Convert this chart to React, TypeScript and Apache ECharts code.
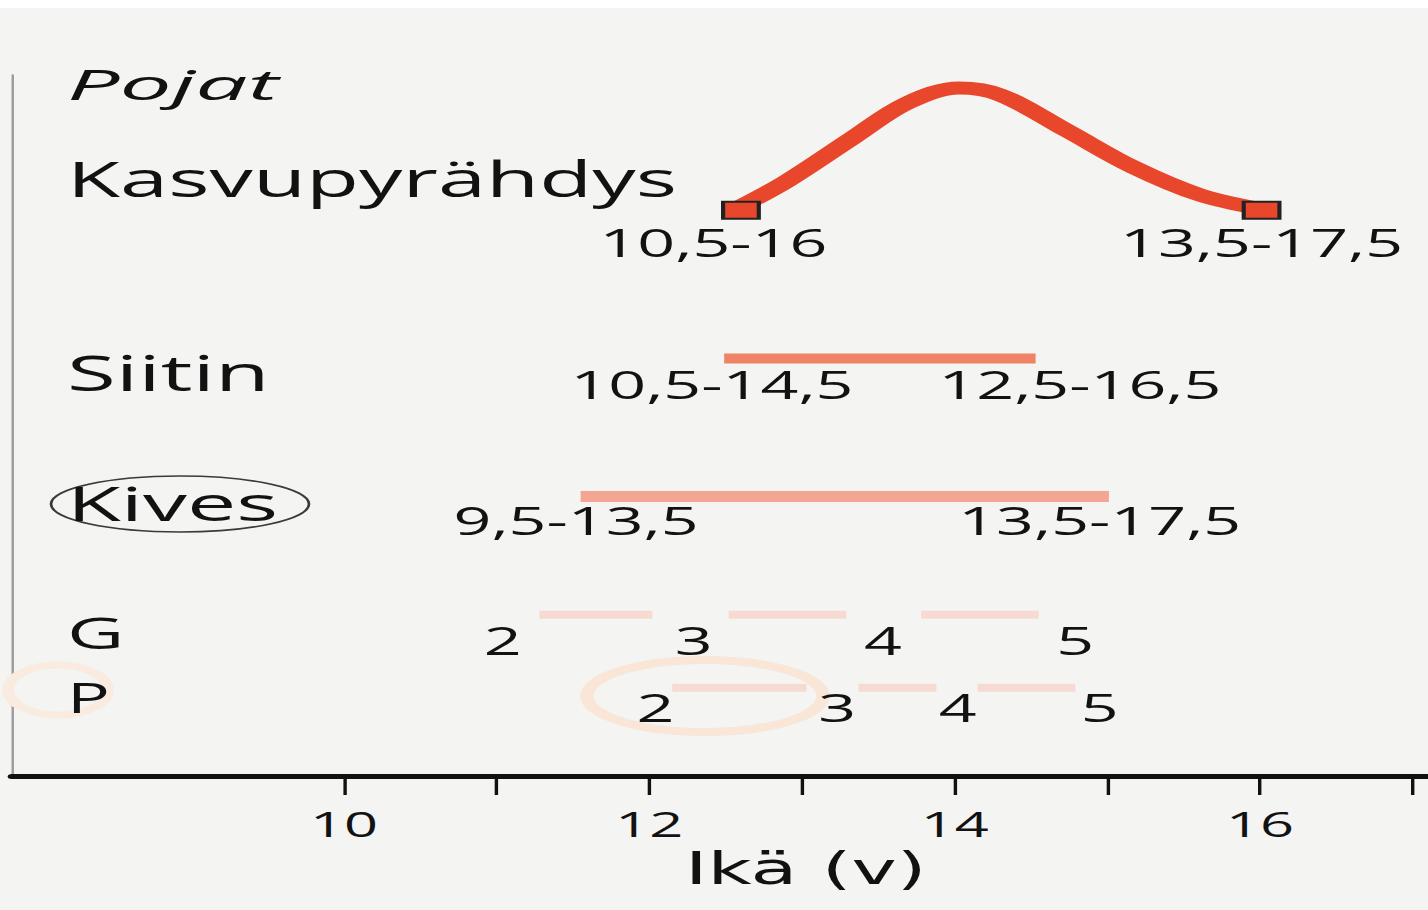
import React, { useEffect, useRef } from "react";
import * as echarts from "echarts";

// ---- data ----
const ageTicks = [10, 11, 12, 13, 14, 15, 16, 17];
const ageTickLabels = [10, 12, 14, 16];

// growth spurt (Kasvupyrähdys) curve
const spurtCurve = [
  [12.6, 5.69], [12.9, 5.94], [13.33, 6.37], [13.69, 6.72], [14.03, 6.87],
  [14.3, 6.8], [14.74, 6.44], [15.17, 6.08], [15.61, 5.8], [16.01, 5.66],
];
const spurtEnds = [[12.6, 5.65], [16.01, 5.65]];

// range bars
const siitinBar = [[12.49, 14.53, 4.17]];
const kivesBar = [[11.55, 15.01, 2.79]];
const gSegments = [[11.28, 12.02, 1.61], [12.52, 13.29, 1.61], [13.78, 14.55, 1.61]];
const pSegments = [[12.15, 13.03, 0.88], [13.37, 13.88, 0.88], [14.15, 14.79, 0.88]];

// range labels
const rangeLabels = ["10,5-16", "13,5-17,5", "10,5-14,5", "12,5-16,5", "9,5-13,5", "13,5-17,5"];
const rangeLabelPos = [
  [12.42, 5.33], [16.01, 5.33], [12.41, 3.91], [14.82, 3.91], [11.52, 2.56], [14.95, 2.56],
];

// stage numbers
const gStages = ["2", "3", "4", "5"];
const gStagePos = [[11.04, 1.36], [12.29, 1.36], [13.53, 1.36], [14.79, 1.36]];
const pStages = ["2", "3", "4", "5"];
const pStagePos = [[12.04, 0.69], [13.23, 0.69], [14.02, 0.69], [14.95, 0.69]];

const rowLabels = ["Pojat", "Kasvupyrähdys", "Siitin", "Kives", "G", "P"];

// ---- layout ----
const SX = 1.7;
const W = Math.round(1428 / SX);
const H = 910;
const FONT = "'Open Sans', 'Noto Sans', sans-serif";
const BG = "#f4f4f2";

function segSeries(data: number[][], color: string, h: number, z = 2) {
  return {
    type: "custom",
    clip: false,
    z,
    data,
    encode: { x: [0, 1], y: 2 },
    renderItem: (params: any, api: any) => {
      const s = api.coord([api.value(0), api.value(2)]);
      const e = api.coord([api.value(1), api.value(2)]);
      return {
        type: "rect",
        shape: { x: s[0], y: s[1] - h / 2, width: e[0] - s[0], height: h },
        style: { fill: color },
      };
    },
  };
}

function textSeries(labels: string[], pos: number[][], fontSize: number) {
  return {
    type: "custom",
    clip: false,
    z: 5,
    data: pos,
    renderItem: (params: any, api: any) => {
      const p = api.coord([api.value(0), api.value(1)]);
      return {
        type: "text",
        x: p[0],
        y: p[1],
        style: {
          text: labels[params.dataIndex],
          fontSize,
          fontFamily: FONT,
          fill: "#121212",
          align: "center",
          verticalAlign: "middle",
        },
      };
    },
  };
}

export default function App() {
  const ref = useRef<HTMLDivElement>(null);
  useEffect(() => {
    document.body.style.margin = "0";
    document.body.style.background = BG;
    const chart = echarts.init(ref.current!, null, { renderer: "svg" });
    const rowY = [84, 178, 372, 503, 632, 697];
    const rowSize = [42, 50, 49, 47, 43, 42];
    const rowScale = [1.3, 1.02, 1.07, 1.1, 1.08, 1.0];
    chart.setOption({
      animation: false,
      backgroundColor: BG,
      grid: { left: 7, right: 0, top: 75, bottom: 134 },
      xAxis: {
        type: "value",
        min: 7.825,
        max: 17.1,
        name: "Ikä (v)",
        nameLocation: "middle",
        nameGap: 60,
        nameTextStyle: { fontSize: 45, color: "#121212", fontFamily: "'DejaVu Sans', sans-serif", padding: [0, 0, 0, 101] },
        axisLine: { show: true, lineStyle: { color: "#111", width: 5 } },
        axisTick: { show: true, customValues: ageTicks, length: 19, lineStyle: { color: "#111", width: 2 } },
        axisLabel: { customValues: ageTickLabels, fontSize: 35, color: "#121212", fontFamily: FONT, margin: 30 },
        splitLine: { show: false },
      },
      yAxis: {
        type: "value",
        min: 0,
        max: 7,
        axisLine: { show: true, lineStyle: { color: "#9a9a9a", width: 1.4 } },
        axisTick: { show: false },
        axisLabel: { show: false },
        splitLine: { show: false },
      },
      graphic: [
        { type: "rect", shape: { x: 0, y: 0, width: W, height: 8 }, style: { fill: "#ffffff" } },
        {
          type: "ellipse",
          shape: { cx: 705 / SX, cy: 696, rx: 118 / SX, ry: 36 },
          style: { fill: "none", stroke: "#f9e6d7", lineWidth: 8 },
          z: 1,
        },
        {
          type: "ellipse",
          shape: { cx: 58 / SX, cy: 690, rx: 50 / SX, ry: 25 },
          style: { fill: "none", stroke: "#f9ebdf", lineWidth: 7 },
          z: 1,
        },
        {
          type: "ellipse",
          shape: { cx: 180 / SX, cy: 504, rx: 129 / SX, ry: 28 },
          style: { fill: "none", stroke: "#3a3a3a", lineWidth: 1.6 },
          z: 10,
        },
        ...rowLabels.map((t, i) => ({
          type: "text",
          x: 67 / SX,
          y: rowY[i],
          scaleX: rowScale[i],
          z: 10,
          style: {
            text: t,
            fontSize: rowSize[i],
            fontStyle: i === 0 ? "italic" : "normal",
            fontFamily: FONT,
            fill: "#121212",
            verticalAlign: "middle",
          },
        })),
      ],
      series: [
        segSeries(gSegments, "#f7dad2", 8, 2),
        segSeries(pSegments, "#f7dad2", 8, 2),
        segSeries(kivesBar, "#f4a593", 11, 3),
        segSeries(siitinBar, "#ef8366", 10, 3),
        {
          type: "line",
          data: spurtCurve,
          smooth: 0.35,
          symbol: "none",
          z: 4,
          lineStyle: { color: "#e8472c", width: 13 },
        },
        {
          type: "scatter",
          data: spurtEnds,
          symbol: "rect",
          symbolSize: [21, 17],
          z: 6,
          itemStyle: { color: "#e8472c", borderColor: "#222", borderWidth: 2.2, opacity: 1 },
        },
        textSeries(rangeLabels, rangeLabelPos, 39),
        textSeries(gStages, gStagePos, 39),
        textSeries(pStages, pStagePos, 39),
      ],
    });
    return () => chart.dispose();
  }, []);
  return (
    <div style={{ width: 1428, height: H, overflow: "hidden", background: BG }}>
      <div
        ref={ref}
        style={{ width: W, height: H, transform: `scaleX(${SX})`, transformOrigin: "0 0" }}
      />
    </div>
  );
}
